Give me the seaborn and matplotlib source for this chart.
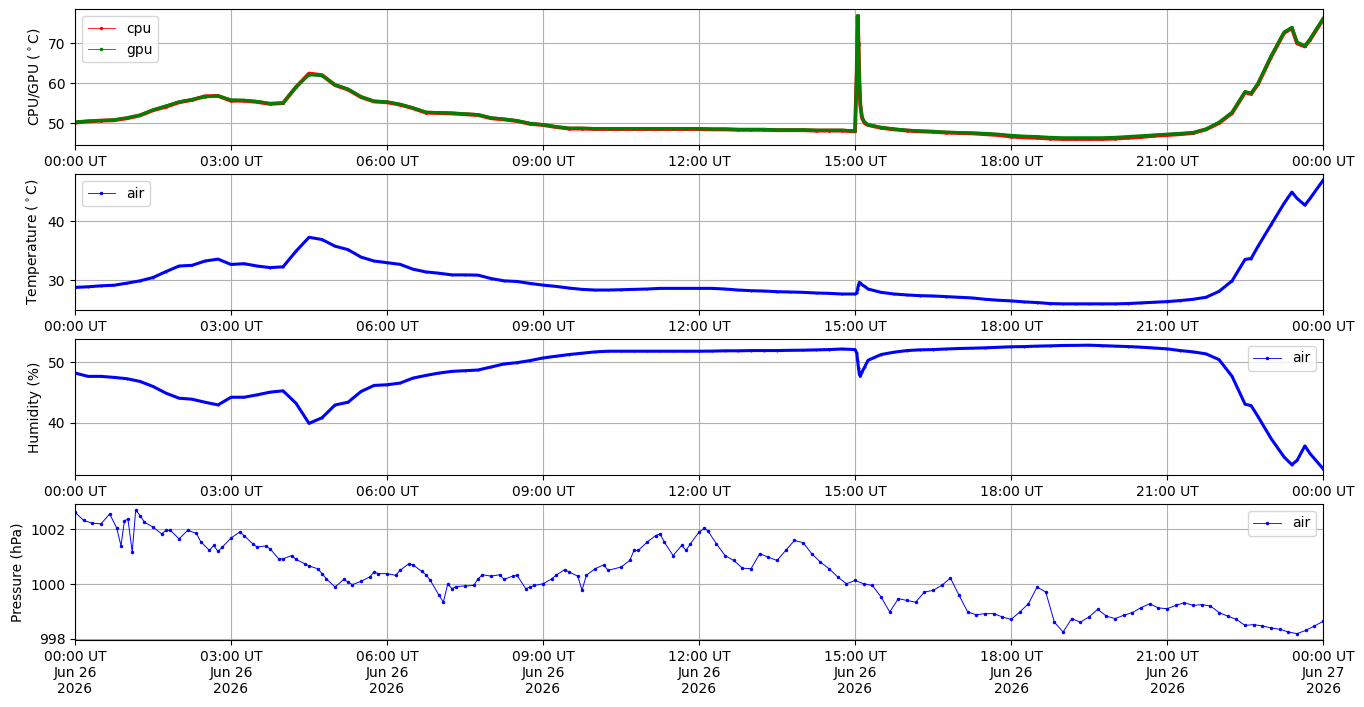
import numpy as np
import pandas as pd
import matplotlib
matplotlib.use("Agg")
import matplotlib.pyplot as plt
import matplotlib.dates as mdates
from matplotlib.lines import Line2D
import seaborn as sns

DAY = pd.Timestamp("2026-06-26 00:00")

# 15-minute readings, 00:00 .. 24:00 (97 values)
gpu_temp = [
    50.3, 50.5, 50.6, 50.8, 51.3, 52.0, 53.3, 54.3, 55.3, 55.9, 56.6, 56.8,
    55.8, 55.7, 55.4, 54.9, 55.0, 59.1, 62.1, 61.9, 59.6, 58.5, 56.6, 55.5,
    55.3, 54.7, 53.8, 52.7, 52.6, 52.5, 52.3, 52.1, 51.3, 51.0, 50.6, 49.9,
    49.6, 49.1, 48.7, 48.7, 48.6, 48.6, 48.6, 48.6, 48.6, 48.6, 48.6, 48.6,
    48.6, 48.5, 48.5, 48.4, 48.4, 48.4, 48.3, 48.3, 48.3, 48.2, 48.2, 48.2,
    48.0, 49.6, 48.9, 48.5, 48.2, 48.0, 47.9, 47.7, 47.6, 47.5, 47.4, 47.2,
    46.9, 46.7, 46.6, 46.4, 46.3, 46.3, 46.3, 46.3, 46.4, 46.6, 46.8, 47.0,
    47.2, 47.4, 47.6, 48.5, 50.2, 52.7, 57.9, 60.0, 66.8, 72.8, 70.3, 71.1,
    76.2,
]
cpu_temp = [
    50.1, 50.4, 50.6, 50.7, 51.2, 51.9, 53.2, 54.1, 55.2, 55.8, 56.7, 56.8,
    55.6, 55.6, 55.3, 54.8, 55.0, 59.0, 62.4, 62.0, 59.5, 58.4, 56.5, 55.4,
    55.2, 54.6, 53.7, 52.6, 52.5, 52.4, 52.2, 52.0, 51.2, 50.9, 50.5, 49.8,
    49.5, 49.0, 48.6, 48.6, 48.5, 48.5, 48.5, 48.5, 48.5, 48.5, 48.5, 48.5,
    48.5, 48.4, 48.4, 48.3, 48.3, 48.3, 48.2, 48.2, 48.2, 48.1, 48.1, 48.1,
    47.9, 49.5, 48.8, 48.4, 48.1, 47.9, 47.8, 47.6, 47.5, 47.4, 47.2, 47.0,
    46.6, 46.4, 46.3, 46.1, 46.0, 46.0, 46.0, 46.0, 46.1, 46.3, 46.5, 46.8,
    47.0, 47.2, 47.5, 48.4, 50.0, 52.5, 57.7, 59.8, 66.6, 72.6, 70.0, 70.9,
    76.0,
]
air_temp = [
    28.83, 28.94, 29.10, 29.20, 29.55, 29.94, 30.50, 31.50, 32.44, 32.55, 33.28, 33.60,
    32.70, 32.83, 32.44, 32.17, 32.30, 34.94, 37.28, 36.90, 35.78, 35.20, 33.94, 33.28,
    33.00, 32.72, 31.90, 31.44, 31.22, 30.94, 30.94, 30.90, 30.33, 29.94, 29.83, 29.50,
    29.22, 29.00, 28.72, 28.50, 28.39, 28.39, 28.44, 28.50, 28.56, 28.67, 28.67, 28.67,
    28.67, 28.67, 28.56, 28.39, 28.28, 28.22, 28.11, 28.06, 28.00, 27.89, 27.83, 27.72,
    27.72, 28.56, 28.00, 27.72, 27.56, 27.44, 27.39, 27.28, 27.17, 27.06, 26.83, 26.67,
    26.56, 26.39, 26.28, 26.11, 26.06, 26.06, 26.06, 26.06, 26.06, 26.11, 26.22, 26.33,
    26.44, 26.61, 26.83, 27.17, 28.17, 29.94, 33.55, 35.78, 39.40, 43.00, 43.83, 43.83,
    46.89,
]
humidity = [
    48.22, 47.67, 47.67, 47.50, 47.28, 46.83, 46.00, 44.89, 44.06, 43.89, 43.39, 42.95,
    44.22, 44.22, 44.61, 45.06, 45.28, 43.22, 39.89, 40.83, 42.94, 43.39, 45.17, 46.17,
    46.28, 46.56, 47.39, 47.83, 48.22, 48.50, 48.61, 48.72, 49.22, 49.72, 49.94, 50.28,
    50.72, 51.00, 51.28, 51.50, 51.72, 51.83, 51.83, 51.83, 51.83, 51.83, 51.83, 51.83,
    51.83, 51.85, 51.90, 51.90, 51.94, 51.94, 51.94, 51.98, 52.00, 52.05, 52.10, 52.20,
    52.10, 50.33, 51.28, 51.67, 51.94, 52.06, 52.10, 52.20, 52.28, 52.33, 52.39, 52.48,
    52.56, 52.60, 52.67, 52.72, 52.78, 52.80, 52.83, 52.75, 52.67, 52.60, 52.50, 52.36,
    52.22, 51.94, 51.72, 51.39, 50.44, 47.67, 43.06, 41.00, 37.39, 34.33, 33.78, 34.89,
    32.39,
]

# extra readings around the 15:00 event and the late evening wiggles (minutes after midnight)
extra_min = [902, 903, 904, 905, 906, 908, 911, 1357, 1404, 1419]
extra_gpu = [64.0, 77.0, 70.0, 61.0, 55.0, 51.5, 50.2, 57.5, 74.0, 69.4]
extra_cpu = [63.5, 76.8, 69.5, 60.5, 54.6, 51.3, 50.0, 57.3, 73.8, 69.2]
extra_air = [27.9, 28.6, 29.3, 29.67, 29.6, 29.3, 29.0, 33.7, 44.9, 42.7]
extra_hum = [51.5, 50.2, 49.0, 48.0, 47.67, 48.4, 49.2, 42.83, 33.06, 36.17]

# pressure, irregular readings (minutes after midnight)
pres_min = [
    0, 10, 20, 30, 40, 48, 53, 57, 61, 66, 70, 75, 80, 90, 100, 105, 110, 120,
    130, 140, 145, 155, 160, 165, 170, 180, 190, 195, 205, 210, 220, 225, 235,
    240, 250, 255, 265, 270, 280, 285, 290, 300, 310, 315, 320, 330, 340, 345,
    350, 360, 370, 375, 385, 390, 400, 405, 410, 420, 425, 430, 435, 440, 450,
    460, 465, 470, 480, 490, 495, 505, 510, 520, 525, 530, 540, 550, 555, 565,
    570, 580, 585, 590, 600, 610, 615, 630, 640, 645, 650, 660, 670, 675, 680,
    690, 700, 705, 710, 720, 726, 730, 740, 750, 760, 770, 780, 790, 800, 810,
    820, 830, 840, 850, 860, 870, 880, 890, 900, 910, 920, 930, 940, 950, 960,
    970, 980, 990, 1000, 1010, 1020, 1030, 1040, 1050, 1060, 1070, 1080, 1090,
    1100, 1110, 1120, 1130, 1140, 1150, 1160, 1170, 1180, 1190, 1200, 1210,
    1220, 1230, 1240, 1250, 1260, 1270, 1280, 1290, 1300, 1310, 1320, 1330,
    1340, 1350, 1360, 1370, 1380, 1390, 1400, 1410, 1420, 1430, 1440,
]
pres_hpa = [
    1002.62, 1002.32, 1002.22, 1002.20, 1002.56, 1002.05, 1001.40, 1002.30, 1002.38,
    1001.17, 1002.70, 1002.50, 1002.26, 1002.08, 1001.83, 1001.96, 1001.96, 1001.65,
    1001.96, 1001.85, 1001.55, 1001.23, 1001.41, 1001.19, 1001.35, 1001.68, 1001.90,
    1001.77, 1001.47, 1001.35, 1001.39, 1001.29, 1000.92, 1000.92, 1001.04, 1000.90,
    1000.74, 1000.66, 1000.56, 1000.38, 1000.19, 999.89, 1000.17, 1000.07, 999.98,
    1000.10, 1000.26, 1000.44, 1000.38, 1000.38, 1000.32, 1000.50, 1000.74, 1000.70,
    1000.46, 1000.34, 1000.13, 999.59, 999.34, 1000.00, 999.83, 999.91, 999.93,
    999.95, 1000.19, 1000.34, 1000.29, 1000.34, 1000.17, 1000.29, 1000.32, 999.83,
    999.89, 999.95, 1000.01, 1000.19, 1000.32, 1000.53, 1000.44, 1000.29, 999.78,
    1000.32, 1000.56, 1000.70, 1000.50, 1000.62, 1000.86, 1001.23, 1001.23, 1001.53,
    1001.77, 1001.83, 1001.53, 1001.04, 1001.41, 1001.23, 1001.47, 1001.90, 1002.03,
    1001.95, 1001.47, 1001.04, 1000.86, 1000.58, 1000.56, 1001.11, 1000.98, 1000.86,
    1001.23, 1001.59, 1001.51, 1001.11, 1000.80, 1000.56, 1000.26, 1000.01, 1000.13,
    1000.01, 999.95, 999.53, 998.98, 999.47, 999.40, 999.34, 999.71, 999.77, 999.95,
    1000.22, 999.59, 998.98, 998.88, 998.92, 998.92, 998.80, 998.71, 998.98, 999.28,
    999.89, 999.71, 998.61, 998.25, 998.74, 998.61, 998.80, 999.08, 998.83, 998.74,
    998.86, 998.96, 999.14, 999.28, 999.13, 999.10, 999.22, 999.32, 999.22, 999.25,
    999.20, 998.96, 998.83, 998.71, 998.49, 998.52, 998.47, 998.40, 998.35, 998.25,
    998.19, 998.31, 998.47, 998.64,
]


def stamp(minutes):
    return DAY + pd.to_timedelta(np.asarray(minutes, dtype=float), unit="min")


quarter_min = list(range(0, 24 * 60 + 1, 15))
t_main = stamp(quarter_min + extra_min)


def series(base, extra):
    return pd.Series(base + extra, index=t_main).sort_index()


cpu = series(cpu_temp, extra_cpu)
gpu = series(gpu_temp, extra_gpu)
air = series(air_temp, extra_air)
hum = series(humidity, extra_hum)
pres = pd.Series(pres_hpa, index=stamp(pres_min))

fig, axes = plt.subplots(4, 1, figsize=(13.64, 7.07), dpi=100)
fig.subplots_adjust(left=0.055, right=0.97, top=0.987, bottom=0.095, hspace=0.213)

band = dict(lw=2.8, marker=".", markersize=4, markeredgewidth=0)
thick = dict(lw=2.2, marker=".", markersize=3, markeredgewidth=0)
thin = dict(lw=0.7, marker=".", markersize=5, markeredgewidth=0)


def handle(color, label):
    return Line2D([], [], color=color, lw=0.6, marker=".", markersize=3, label=label)


ax = axes[0]
sns.lineplot(x=cpu.index, y=cpu.values, ax=ax, color="red", **band)
sns.lineplot(x=gpu.index, y=gpu.values, ax=ax, color="green", lw=2.2,
             marker=".", markersize=4, markeredgewidth=0)
ax.set_ylabel("CPU/GPU ($^\\circ$C)")
ax.legend(handles=[handle("red", "cpu"), handle("green", "gpu")], loc="upper left")

ax = axes[1]
sns.lineplot(x=air.index, y=air.values, ax=ax, color="blue", **thick)
ax.set_ylabel("Temperature ($^\\circ$C)")
ax.legend(handles=[handle("blue", "air")], loc="upper left")

ax = axes[2]
sns.lineplot(x=hum.index, y=hum.values, ax=ax, color="blue", **thick)
ax.set_ylabel("Humidity (%)")
ax.legend(handles=[handle("blue", "air")], loc="upper right")

ax = axes[3]
sns.lineplot(x=pres.index, y=pres.values, ax=ax, color="blue", **thin)
ax.set_ylabel("Pressure (hPa)")
ax.legend(handles=[handle("blue", "air")], loc="upper right")

for i, ax in enumerate(axes):
    ax.set_xlim(DAY, DAY + pd.Timedelta(days=1))
    ax.xaxis.set_major_locator(mdates.HourLocator(byhour=range(0, 24, 3)))
    fmt = "%H:%M UT\n%b %d\n%Y" if i == 3 else "%H:%M UT"
    ax.xaxis.set_major_formatter(mdates.DateFormatter(fmt))
    ax.set_xlabel("")
    ax.grid(True)

fig.savefig("out.png", dpi=100)
